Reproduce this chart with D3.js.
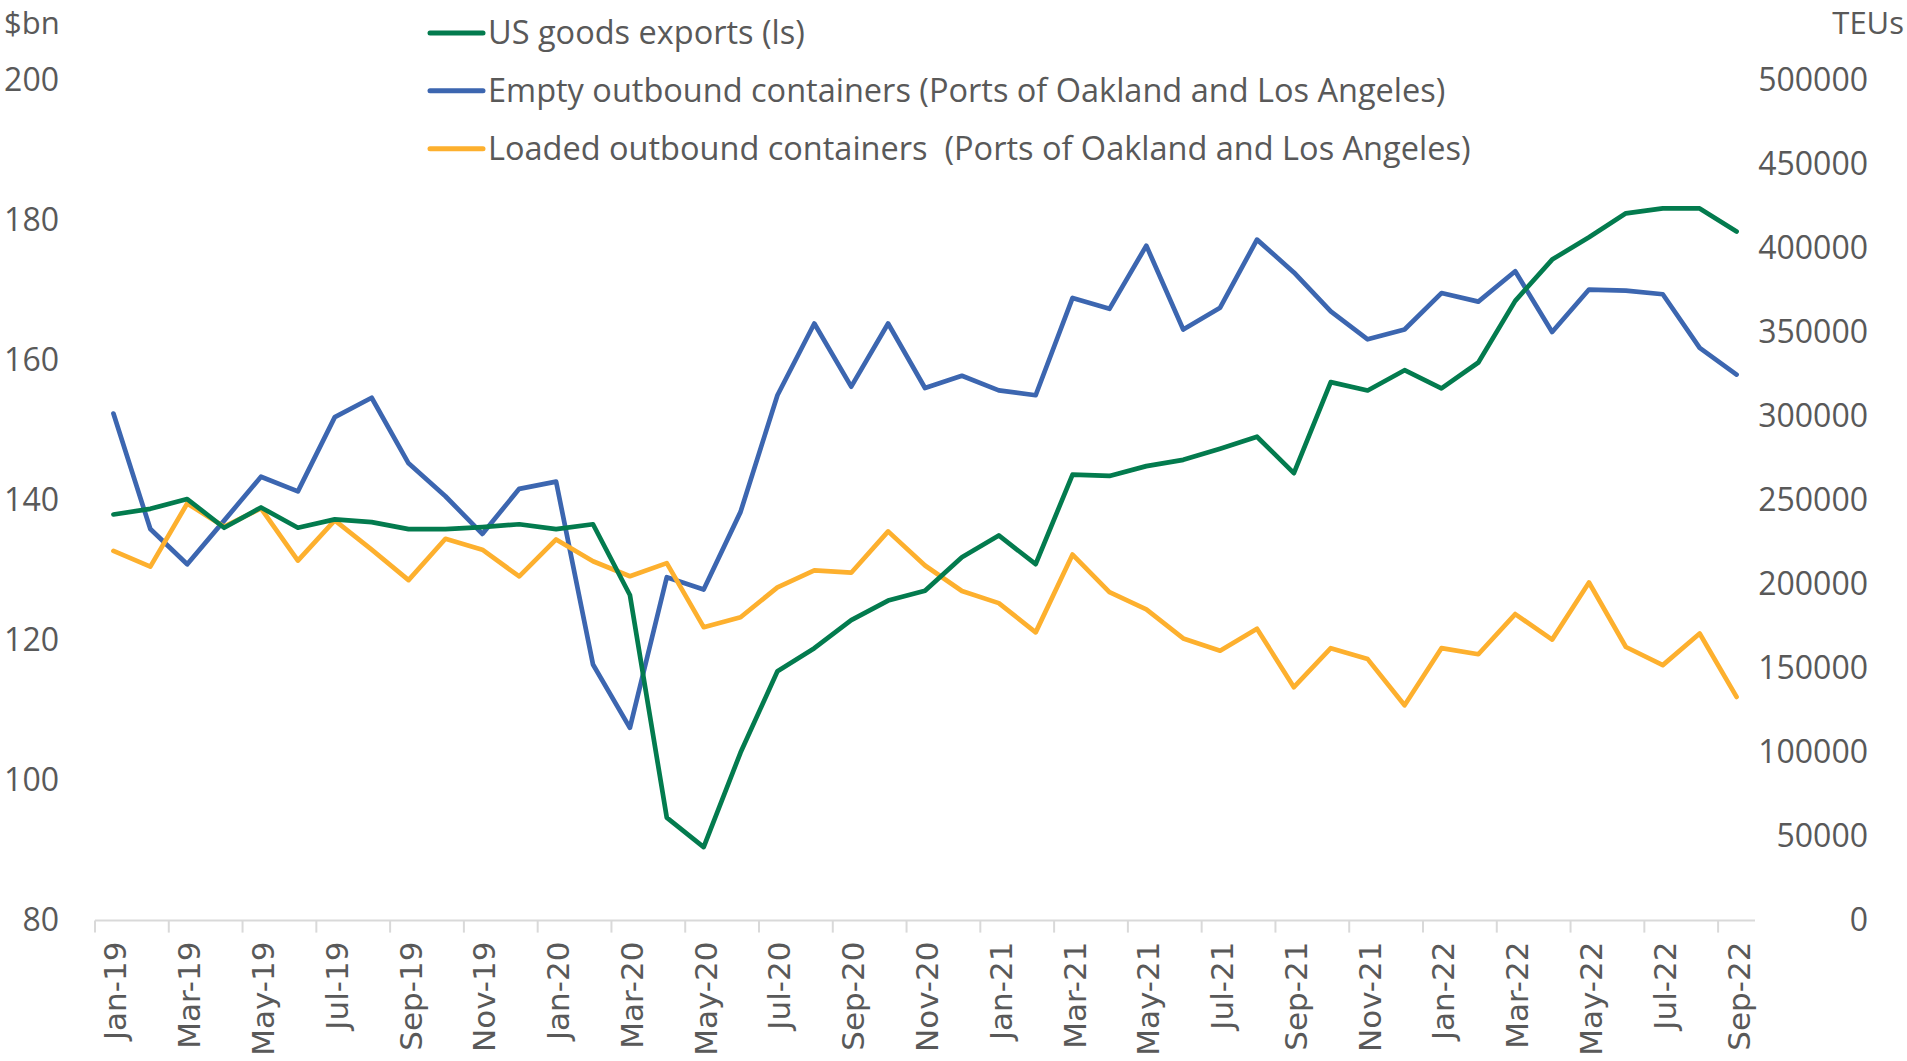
<!DOCTYPE html>
<html>
<head>
<meta charset="utf-8">
<script src="https://cdn.jsdelivr.net/npm/d3@7"></script>
<style>
  html, body { margin: 0; padding: 0; background: #fff; }
  svg { display: block; }
</style>
</head>
<body>
<div id="chart"></div>
<script>
// Monthly categories Jan-19 .. Sep-22
const months = [
  'Jan-19','Feb-19','Mar-19','Apr-19','May-19','Jun-19','Jul-19','Aug-19','Sep-19','Oct-19','Nov-19','Dec-19',
  'Jan-20','Feb-20','Mar-20','Apr-20','May-20','Jun-20','Jul-20','Aug-20','Sep-20','Oct-20','Nov-20','Dec-20',
  'Jan-21','Feb-21','Mar-21','Apr-21','May-21','Jun-21','Jul-21','Aug-21','Sep-21','Oct-21','Nov-21','Dec-21',
  'Jan-22','Feb-22','Mar-22','Apr-22','May-22','Jun-22','Jul-22','Aug-22','Sep-22'
];

// US goods exports, $bn (left scale)
const exportsBn = [
  138.0, 138.8, 140.2, 136.1, 139.0, 136.1, 137.3, 136.9, 135.9, 135.9, 136.2, 136.6,
  135.9, 136.6, 126.5, 94.7, 90.5, 104.0, 115.6, 118.9, 122.9, 125.7, 127.1, 131.9,
  135.0, 130.9, 143.7, 143.5, 144.9, 145.8, 147.4, 149.1, 143.9, 156.9, 155.7, 158.6,
  156.0, 159.7, 168.5, 174.4, 177.6, 181.0, 181.7, 181.7, 178.4
];

// Empty outbound containers, TEUs (right scale)
const emptyTeu = [
  301700, 233000, 212000, 238000, 264100, 255400, 299600, 311100, 272100, 252500, 230100, 256900,
  261200, 152400, 114700, 204300, 197000, 243200, 312600, 355300, 317700, 355300, 316900, 324200,
  315500, 312600, 370500, 364000, 401600, 351700, 364700, 405200, 385700, 362500, 345900, 351700,
  373400, 368300, 386400, 350200, 375500, 374800, 372700, 340800, 324900
];

// Loaded outbound containers, TEUs (right scale)
const loadedTeu = [
  220000, 210600, 248200, 234400, 245300, 214200, 238100, 220700, 202600, 227200, 220700, 204800,
  226800, 213800, 204900, 212700, 174600, 180500, 198300, 208400, 207000, 231600, 211300, 196100,
  188900, 171500, 217800, 195400, 185200, 167900, 160600, 173700, 138900, 162100, 155600, 128100,
  162100, 158500, 182400, 167200, 201200, 162800, 152000, 170800, 133100
];

const leftTicks = [80, 100, 120, 140, 160, 180, 200];
const rightTicks = [0, 50000, 100000, 150000, 200000, 250000, 300000, 350000, 400000, 450000, 500000];

const seriesNames = [
  'US goods exports (ls)',
  'Empty outbound containers (Ports of Oakland and Los Angeles)',
  'Loaded outbound containers  (Ports of Oakland and Los Angeles)'
];
const seriesColors = ['#037b4e', '#3c66b0', '#fdb02e'];

const W = 1907, H = 1061;
const plot = { left: 95, right: 1755, top: 80.3, bottom: 920.6 };
const textColor = '#595959';
const numFont = "'Open Sans', 'Noto Sans', sans-serif";

const svg = d3.select('#chart').append('svg')
  .attr('width', W)
  .attr('height', H);

const x = d3.scaleBand()
  .domain(months)
  .range([plot.left, plot.right])
  .padding(0);

const yL = d3.scaleLinear().domain([80, 200]).range([plot.bottom, plot.top]);
const yR = d3.scaleLinear().domain([0, 500000]).range([plot.bottom, plot.top]);

// left axis labels
const leftAxis = svg.append('g')
  .attr('transform', `translate(59,0)`)
  .call(d3.axisLeft(yL).tickValues(leftTicks).tickSize(0).tickPadding(0));
leftAxis.select('.domain').remove();
leftAxis.selectAll('text')
  .attr('fill', textColor)
  .attr('font-family', numFont)
  .attr('font-size', 32);

// right axis labels
const rightAxis = svg.append('g')
  .attr('transform', `translate(1868,0)`)
  .call(d3.axisLeft(yR).tickValues(rightTicks).tickFormat(d3.format('d')).tickSize(0).tickPadding(0));
rightAxis.select('.domain').remove();
rightAxis.selectAll('text')
  .attr('fill', textColor)
  .attr('font-family', numFont)
  .attr('font-size', 32);

// axis titles
svg.append('text')
  .attr('x', 4).attr('y', 33.5)
  .attr('fill', textColor)
  .attr('font-family', numFont)
  .attr('font-size', 31)
  .text('$bn');

svg.append('text')
  .attr('x', 1904).attr('y', 33.5)
  .attr('text-anchor', 'end')
  .attr('fill', textColor)
  .attr('font-family', numFont)
  .attr('font-size', 31)
  .text('TEUs');

// x axis: baseline, ticks every second month
const step = x.step();
const tickIdx = d3.range(0, months.length, 2);
const xAxisG = svg.append('g');
xAxisG.append('line')
  .attr('x1', plot.left).attr('x2', plot.right)
  .attr('y1', plot.bottom).attr('y2', plot.bottom)
  .attr('stroke', '#d9d9d9')
  .attr('stroke-width', 2);
xAxisG.selectAll('line.tick')
  .data(tickIdx)
  .enter()
  .append('line')
  .attr('class', 'tick')
  .attr('x1', d => plot.left + d * step)
  .attr('x2', d => plot.left + d * step)
  .attr('y1', plot.bottom)
  .attr('y2', plot.bottom + 12)
  .attr('stroke', '#d9d9d9')
  .attr('stroke-width', 2);

xAxisG.selectAll('text')
  .data(months.filter((m, i) => i % 2 === 0))
  .enter()
  .append('text')
  .attr('transform', d => `translate(${x(d) + step / 2 + 13},${plot.bottom + 21}) rotate(-90)`)
  .attr('text-anchor', 'end')
  .attr('fill', textColor)
  .attr('font-family', "'DejaVu Sans', sans-serif")
  .attr('font-size', 31)
  .text(d => d);

// lines
const cx = i => x(months[i]) + step / 2;
const lineL = d3.line().x((d, i) => cx(i)).y(d => yL(d));
const lineR = d3.line().x((d, i) => cx(i)).y(d => yR(d));

const lines = [
  { data: emptyTeu, gen: lineR, color: seriesColors[1] },
  { data: loadedTeu, gen: lineR, color: seriesColors[2] },
  { data: exportsBn, gen: lineL, color: seriesColors[0] }
];

svg.append('g')
  .selectAll('path')
  .data(lines)
  .enter()
  .append('path')
  .attr('d', d => d.gen(d.data))
  .attr('fill', 'none')
  .attr('stroke', d => d.color)
  .attr('stroke-width', 4.7)
  .attr('stroke-linejoin', 'round')
  .attr('stroke-linecap', 'round');

// legend
const legend = svg.append('g');
const legendY = [33, 90.7, 148.7];
seriesNames.forEach((name, i) => {
  legend.append('line')
    .attr('x1', 430).attr('x2', 483)
    .attr('y1', legendY[i]).attr('y2', legendY[i])
    .attr('stroke', seriesColors[i])
    .attr('stroke-width', 5)
    .attr('stroke-linecap', 'round');
  legend.append('text')
    .attr('x', 488).attr('y', legendY[i])
    .attr('dy', '0.35em')
    .attr('fill', textColor)
    .attr('font-family', numFont)
    .attr('font-size', 32.5)
    .style('white-space', 'pre')
    .text(name);
});
</script>
</body>
</html>
